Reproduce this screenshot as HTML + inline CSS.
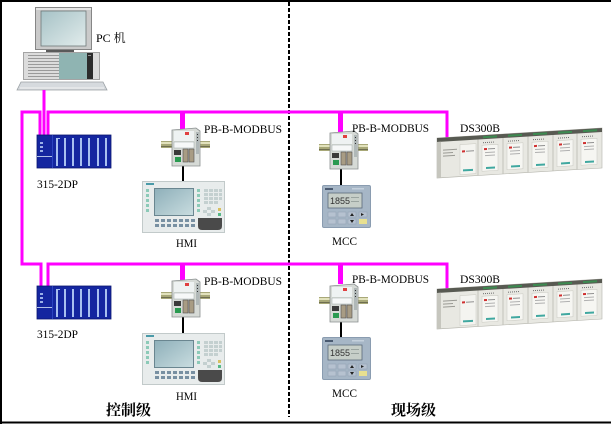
<!DOCTYPE html>
<html><head><meta charset="utf-8"><style>
html,body{margin:0;padding:0;background:#fff;}
svg{display:block;}
text{font-family:"Liberation Serif","Noto Serif CJK SC",serif;font-size:12px;fill:#000;}
.cj{font-family:"Liberation Serif","Noto Serif CJK SC","Noto Sans CJK SC",serif;font-size:15px;font-weight:bold;}
.lcd{font-family:"Liberation Sans",sans-serif;font-size:9px;fill:#333;}
</style></head><body>
<svg width="611" height="424" viewBox="0 0 611 424" xmlns="http://www.w3.org/2000/svg">
<defs>
 <linearGradient id="scr" x1="0" y1="0" x2="1" y2="1">
  <stop offset="0" stop-color="#a6c2c6"/><stop offset="1" stop-color="#e2ecec"/>
 </linearGradient>
 <linearGradient id="hscr" x1="0" y1="0" x2="1" y2="1">
  <stop offset="0" stop-color="#8fb0ba"/><stop offset="1" stop-color="#c8dcdf"/>
 </linearGradient>

 <g id="plc">
  <rect x="0" y="0" width="74" height="33" fill="#1426a0" stroke="#0a1670" stroke-width="0.8"/>
  <rect x="15" y="0" width="1" height="33" fill="#2c44c0"/>
  <rect x="0" y="21" width="15" height="1" fill="#b0c0e8"/>
  <rect x="3" y="7" width="3" height="2" fill="#9ab0e8"/>
  <rect x="3" y="11" width="3" height="2" fill="#9ab0e8"/>
  <rect x="3" y="15" width="3" height="2" fill="#9ab0e8"/>
  <rect x="19" y="3" width="4" height="1" fill="#a8c0f0"/>
  <g fill="#a8c0f0">
   <rect x="19" y="3" width="2" height="28"/>
   <rect x="27" y="3" width="2" height="28"/>
   <rect x="35" y="3" width="2" height="28"/>
   <rect x="43" y="3" width="2" height="28"/>
   <rect x="51" y="3" width="2" height="28"/>
   <rect x="60" y="3" width="2" height="28"/>
   <rect x="68" y="3" width="2" height="28"/>
  </g>
 </g>

 <g id="pb">
  <rect x="-9" y="13" width="49" height="7" fill="#a8a878"/>
  <rect x="-9" y="14" width="49" height="2" fill="#e2e2bc"/>
  <rect x="-9" y="18" width="49" height="1" fill="#6e6e50"/>
  <path d="M2 2 L26 0 L30 3 L30 38 L2 38 Z" fill="#d6dad6" stroke="#8a9090" stroke-width="0.8"/>
  <rect x="4" y="3" width="20" height="10" fill="#eef2f2"/>
  <rect x="15" y="4" width="4" height="3" fill="#e04040"/>
  <rect x="26" y="4" width="3" height="22" fill="#b0b8b8"/>
  <rect x="27" y="6" width="1" height="1" fill="#333"/>
  <rect x="27" y="9" width="1" height="1" fill="#333"/>
  <rect x="27" y="12" width="1" height="1" fill="#333"/>
  <rect x="4" y="14" width="20" height="6" fill="#f6f8f8" stroke="#a0a8a8" stroke-width="0.5"/>
  <rect x="4" y="22" width="7" height="5" fill="#3a3a3a"/>
  <rect x="5" y="29" width="6" height="5" fill="#2a9a50"/>
  <rect x="13" y="21" width="5" height="13" fill="#a89c84" stroke="#505050" stroke-width="0.6"/>
  <rect x="19" y="21" width="5" height="13" fill="#a89c84" stroke="#505050" stroke-width="0.6"/>
 </g>

 <g id="hmi">
  <rect x="0.5" y="0.5" width="82" height="51" fill="#e8ecec" stroke="#c2caca"/>
  <rect x="4" y="2" width="8" height="2" fill="#4a9aa8"/>
  <g fill="#8ccab8">
   <rect x="4" y="8" width="3" height="3"/><rect x="4" y="13" width="3" height="3"/>
   <rect x="4" y="18" width="3" height="3"/><rect x="4" y="23" width="3" height="3"/>
   <rect x="4" y="28" width="3" height="3"/>
   <rect x="55" y="8" width="3" height="3"/><rect x="55" y="13" width="3" height="3"/>
   <rect x="55" y="18" width="3" height="3"/><rect x="55" y="23" width="3" height="3"/>
   <rect x="55" y="28" width="3" height="3"/>
  </g>
  <rect x="12" y="7" width="40" height="28" fill="#6a8690"/>
  <rect x="13" y="8" width="38" height="26" fill="url(#hscr)"/>
  <g fill="#c4d0d0">
   <rect x="62" y="8" width="4" height="3"/><rect x="67" y="8" width="4" height="3"/><rect x="72" y="8" width="4" height="3"/><rect x="77" y="8" width="3" height="3"/>
   <rect x="62" y="12" width="4" height="3"/><rect x="67" y="12" width="4" height="3"/><rect x="72" y="12" width="4" height="3"/><rect x="77" y="12" width="3" height="3"/>
   <rect x="62" y="16" width="4" height="3"/><rect x="67" y="16" width="4" height="3"/><rect x="72" y="16" width="4" height="3"/><rect x="77" y="16" width="3" height="3"/>
   <rect x="62" y="20" width="4" height="3"/><rect x="67" y="20" width="4" height="3"/><rect x="72" y="20" width="4" height="3"/>
   <rect x="65" y="26" width="4" height="3"/><rect x="61" y="29" width="4" height="3"/><rect x="69" y="29" width="4" height="3"/><rect x="65" y="32" width="4" height="3"/>
  </g>
  <rect x="76" y="27" width="3" height="3" fill="#d8c060"/>
  <rect x="76" y="32" width="3" height="3" fill="#58b888"/>
  <g fill="#7890a2">
   <rect x="13" y="38" width="4" height="3"/><rect x="19" y="38" width="4" height="3"/><rect x="25" y="38" width="4" height="3"/><rect x="31" y="38" width="4" height="3"/><rect x="37" y="38" width="4" height="3"/><rect x="43" y="38" width="4" height="3"/><rect x="49" y="38" width="4" height="3"/>
   <rect x="13" y="43" width="4" height="3"/><rect x="19" y="43" width="4" height="3"/><rect x="25" y="43" width="4" height="3"/><rect x="31" y="43" width="4" height="3"/><rect x="37" y="43" width="4" height="3"/><rect x="43" y="43" width="4" height="3"/><rect x="49" y="43" width="4" height="3"/>
  </g>
  <path d="M56 37 H80 V45 Q80 49 76 49 H60 Q56 49 56 45 Z" fill="#4a4a4a"/>
 </g>

 <g id="mcc">
  <rect x="0.5" y="0.5" width="48" height="42" rx="1.5" fill="#a6b6c6" stroke="#8a9cb0"/>
  <rect x="3" y="3" width="8" height="2" fill="#4a5a70"/>
  <rect x="30" y="3" width="12" height="1.5" fill="#c4d0dc"/>
  <rect x="6" y="8" width="34" height="15" fill="#c6cec8" stroke="#5a6a7a" stroke-width="0.8"/>
  <rect x="29" y="12" width="8" height="1" fill="#9aa4a0"/>
  <rect x="29" y="16" width="8" height="1" fill="#9aa4a0"/>
  <g fill="#b6c2d0" stroke="#8c9cb0" stroke-width="0.5">
   <rect x="6" y="27" width="8" height="5"/><rect x="16" y="27" width="8" height="5"/>
   <rect x="6" y="34" width="8" height="5"/><rect x="16" y="34" width="8" height="5"/>
   <rect x="26" y="27" width="8" height="5"/><rect x="26" y="34" width="8" height="5"/>
   <rect x="37" y="27" width="8" height="5"/>
  </g>
  <rect x="37" y="34" width="8" height="5" fill="#e8e090"/>
  <path d="M28 31 L30 28 L32 31 Z" fill="#222"/>
  <path d="M28 35 L32 35 L30 38 Z" fill="#222"/>
  <path d="M39 28 L42 29.5 L39 31 Z" fill="#222"/>
 </g>

 <g id="ds">
  <rect x="0" y="0" width="165" height="40" fill="#e8e8e2" stroke="#b4b4ac" stroke-width="0.6"/>
  <rect x="0" y="0" width="165" height="4" fill="#585a52"/>
  <g fill="#3c8a50">
   <rect x="46" y="1" width="14" height="2"/><rect x="71" y="1" width="14" height="2"/>
   <rect x="96" y="1" width="14" height="2"/><rect x="121" y="1" width="14" height="2"/><rect x="146" y="1" width="14" height="2"/>
  </g>
  <rect x="0" y="4" width="4" height="36" fill="#c6c6be"/>
  <rect x="6" y="12" width="14" height="1" fill="#9a9a94"/>
  <rect x="6" y="15" width="10" height="1" fill="#9a9a94"/>
  <rect x="6" y="18" width="12" height="1" fill="#9a9a94"/>
  <rect x="23" y="8" width="16" height="30" fill="#f4f4f0" stroke="#c8c8c0" stroke-width="0.5"/>
  <rect x="25" y="14" width="3" height="2" fill="#d03030"/>
  <rect x="29" y="14.5" width="8" height="1" fill="#909090"/>
  <rect x="26" y="33" width="10" height="2" fill="#40a8a0"/>
  <g stroke="#b8b8b0" stroke-width="0.8">
   <line x1="41" y1="4" x2="41" y2="40"/><line x1="66" y1="4" x2="66" y2="40"/>
   <line x1="91" y1="4" x2="91" y2="40"/><line x1="116" y1="4" x2="116" y2="40"/><line x1="140" y1="4" x2="140" y2="40"/>
  </g>
  <g id="dsm">
   <rect x="45" y="10" width="16" height="26" fill="#f6f6f2" stroke="#c8c8c0" stroke-width="0.5"/>
   <rect x="46" y="7" width="1" height="1" fill="#707070"/><rect x="48" y="7" width="1" height="1" fill="#707070"/>
   <rect x="50" y="7" width="1" height="1" fill="#707070"/><rect x="52" y="7" width="1" height="1" fill="#707070"/>
   <rect x="54" y="7" width="1" height="1" fill="#707070"/><rect x="56" y="7" width="1" height="1" fill="#707070"/>
   <rect x="47" y="13" width="3" height="2" fill="#d03030"/>
   <rect x="51" y="13.5" width="7" height="1" fill="#909090"/>
   <rect x="48" y="17" width="10" height="1" fill="#b0b0b0"/>
   <rect x="48" y="20" width="10" height="1" fill="#b0b0b0"/>
   <rect x="49" y="32" width="9" height="2" fill="#40a8a0"/>
  </g>
  <use href="#dsm" x="25"/>
  <use href="#dsm" x="50"/>
  <use href="#dsm" x="75"/>
  <use href="#dsm" x="99"/>
 </g>
</defs>

<!-- frame -->
<rect x="0" y="0" width="611" height="2" fill="#000"/>
<rect x="0" y="0" width="2" height="424" fill="#000"/>
<rect x="0" y="421.5" width="611" height="2" fill="#000"/>
<line x1="289" y1="2" x2="289" y2="417" stroke="#000" stroke-width="2" stroke-dasharray="4 2"/>

<!-- PC -->
<rect x="35.5" y="7.5" width="56" height="42" fill="#cacaca" stroke="#868686"/>
<rect x="36" y="8" width="55" height="2" fill="#e6e6e6"/>
<rect x="41" y="11" width="45" height="35" fill="url(#scr)" stroke="#6e7878" stroke-width="0.8"/>
<rect x="46" y="50" width="28" height="3" fill="#5a5a5a"/>
<rect x="23.5" y="52.5" width="76" height="27" fill="#dcdcdc" stroke="#a4a4a4"/>
<g fill="#9a9a9a">
 <rect x="28" y="55" width="31" height="1"/><rect x="28" y="58" width="31" height="1"/>
 <rect x="28" y="61" width="31" height="1"/><rect x="28" y="64" width="31" height="1"/>
 <rect x="28" y="67" width="31" height="1"/><rect x="28" y="70" width="31" height="1"/>
 <rect x="28" y="73" width="31" height="1"/><rect x="28" y="76" width="31" height="1"/>
</g>
<rect x="59" y="53" width="28" height="26" fill="#8fb4b2"/>
<rect x="87" y="53" width="6" height="26" fill="#2c2c2c"/>
<rect x="88" y="55" width="3" height="1" fill="#909090"/>
<polygon points="17,90 21,82 103,82 107,90" fill="#d6dade" stroke="#9aa0a4" stroke-width="0.8"/>
<line x1="20" y1="88" x2="104" y2="88" stroke="#f2f2f2"/>

<!-- magenta network -->
<g fill="none" stroke="#ff00ff" stroke-width="3" stroke-linejoin="miter">
 <path d="M40 136 V112 H22 V264 H41 V287"/>
 <path d="M44 90 V136"/>
 <path d="M48 136 V112 H447 V140"/>
 <path d="M48 287 V264 H447 V291"/>
</g>
<g fill="#ff00ff">
 <rect x="180" y="113" width="5" height="16"/>
 <rect x="338" y="113" width="5" height="19"/>
 <rect x="180" y="265" width="5" height="15"/>
 <rect x="338" y="265" width="5" height="19"/>
</g>

<!-- black links -->
<g stroke="#000" stroke-width="2">
 <line x1="183" y1="166" x2="183" y2="181"/>
 <line x1="341" y1="169" x2="341" y2="185"/>
 <line x1="183" y1="317" x2="183" y2="333"/>
 <line x1="341" y1="322" x2="341" y2="337"/>
</g>

<!-- devices -->
<use href="#plc" x="37" y="135"/>
<use href="#plc" x="37" y="286"/>
<use href="#pb" x="170" y="128"/>
<use href="#pb" x="328" y="131"/>
<use href="#pb" x="170" y="279"/>
<use href="#pb" x="328" y="284"/>
<use href="#hmi" x="142" y="181"/>
<use href="#hmi" x="142" y="333"/>
<use href="#mcc" x="322" y="185"/>
<use href="#mcc" x="322" y="337"/>
<g transform="translate(437,138) skewY(-3.47)"><use href="#ds"/></g>
<g transform="translate(437,289) skewY(-3.47)"><use href="#ds"/></g>
<text class="lcd" x="330" y="204">1855</text>
<text class="lcd" x="330" y="356">1855</text>

<!-- labels -->
<text x="96" y="42">PC 机</text>
<text x="37" y="188" textLength="41" lengthAdjust="spacingAndGlyphs">315-2DP</text>
<text x="37" y="338" textLength="41" lengthAdjust="spacingAndGlyphs">315-2DP</text>
<text x="204" y="133" textLength="78" lengthAdjust="spacingAndGlyphs">PB-B-MODBUS</text>
<text x="352" y="132" textLength="77" lengthAdjust="spacingAndGlyphs">PB-B-MODBUS</text>
<text x="204" y="285" textLength="78" lengthAdjust="spacingAndGlyphs">PB-B-MODBUS</text>
<text x="352" y="283" textLength="77" lengthAdjust="spacingAndGlyphs">PB-B-MODBUS</text>
<text x="460" y="132" textLength="40" lengthAdjust="spacingAndGlyphs">DS300B</text>
<text x="460" y="283" textLength="40" lengthAdjust="spacingAndGlyphs">DS300B</text>
<text x="176" y="247" textLength="21" lengthAdjust="spacingAndGlyphs">HMI</text>
<text x="176" y="400" textLength="21" lengthAdjust="spacingAndGlyphs">HMI</text>
<text x="332" y="245" textLength="25" lengthAdjust="spacingAndGlyphs">MCC</text>
<text x="332" y="397" textLength="25" lengthAdjust="spacingAndGlyphs">MCC</text>
<text class="cj" x="106" y="415">控制级</text>
<text class="cj" x="391" y="415">现场级</text>
</svg>
</body></html>
